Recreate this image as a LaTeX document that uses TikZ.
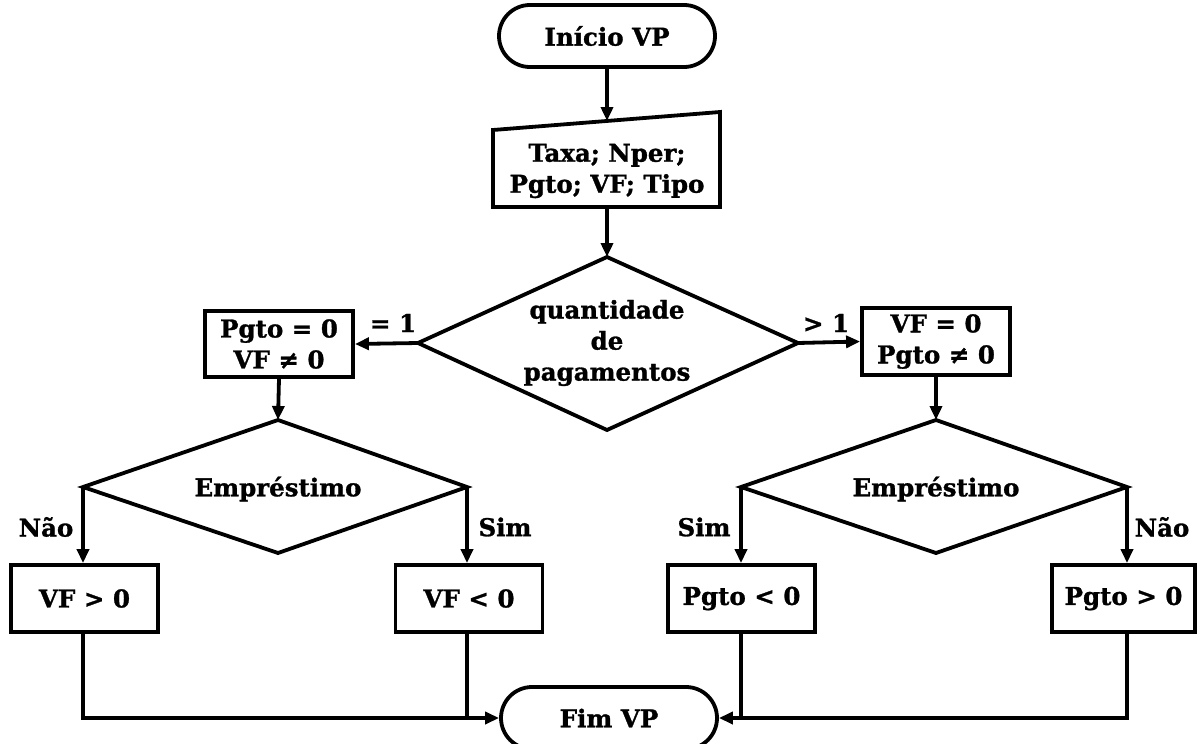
\documentclass[tikz,border=0pt]{standalone}
\usepackage{fontspec}
\setmainfont{DejaVu Serif}[BoldFeatures={FakeBold=1.2}]
\usetikzlibrary{shapes.misc,arrows.meta}
\begin{document}
\begin{tikzpicture}[x=1pt,y=-1pt,
  txt/.style={font=\fontsize{24.5}{31}\selectfont\bfseries, align=center},
  box/.style={txt, draw, line width=3.8pt, inner sep=0pt},
  term/.style={txt, draw, line width=3.8pt, rounded rectangle, inner sep=0pt, minimum width=216pt, minimum height=62pt},
  shp/.style={line width=3.8pt, line join=miter},
  conn/.style={line width=3.8pt},
  arr/.style={line width=3.8pt, -{Triangle[length=14pt,width=12pt]}},
  lbl/.style={txt}]
\useasboundingbox (0,0) rectangle (1197,744);

% terminals
\node[term] (ini) at (607,36) {Início VP};
\node[term] (fim) at (609,718) {Fim VP};

% input
\draw[shp] (493,130) -- (720,112) -- (720,207) -- (493,207) -- cycle;
\coordinate (inTop) at (607,121);
\coordinate (inBot) at (607,207);
\node[txt] (inp) at (607,171) {Taxa; Nper;\\Pgto; VF; Tipo};

% big decision
\coordinate (dT) at (607,257);
\coordinate (dL) at (418,343);
\coordinate (dR) at (798,343);
\coordinate (dB) at (607,430);
\draw[shp] (dT) -- (dR) -- (dB) -- (dL) -- cycle;
\node[txt] (dq) at (607,343) {quantidade\\de\\pagamentos};

% boxes after decision
\node[box, minimum width=148pt, minimum height=66pt] (b1) at (279,344) {Pgto = 0\\VF ≠ 0};
\node[box, minimum width=148pt, minimum height=67pt] (b2) at (936,341.5) {VF = 0\\Pgto ≠ 0};

% left Empréstimo decision
\coordinate (lT) at (278,420);
\coordinate (lL) at (83,487);
\coordinate (lR) at (467,487);
\coordinate (lB) at (278,553);
\draw[shp] (lT) -- (lR) -- (lB) -- (lL) -- cycle;
\node[txt] (le) at (278,489) {Empréstimo};

% right Empréstimo decision
\coordinate (rT) at (936,420);
\coordinate (rL) at (741,487);
\coordinate (rR) at (1127,487);
\coordinate (rB) at (936,553);
\draw[shp] (rT) -- (rR) -- (rB) -- (rL) -- cycle;
\node[txt] (re) at (936,489) {Empréstimo};

% result boxes
\node[box, minimum width=147pt, minimum height=67pt] (b3) at (84.5,598.5) {VF > 0};
\node[box, minimum width=147pt, minimum height=67pt] (b4) at (469,598.5) {VF < 0};
\node[box, minimum width=147pt, minimum height=67pt] (b5) at (741.5,598.5) {Pgto < 0};
\node[box, minimum width=143pt, minimum height=67pt] (b6) at (1123.5,598.5) {Pgto > 0};

% connectors
\draw[arr] (ini.south) -- (inTop);
\draw[arr] (inBot) -- (dT);
\draw[arr] (dL) -- (b1.east);
\draw[arr] (dR) -- (b2.west);
\draw[arr] (b1.south) -- (lT);
\draw[arr] (b2.south) -- (rT);
\draw[arr] (lL) -- (lL |- b3.north);
\draw[arr] (lR) -- (lR |- b4.north);
\draw[arr] (rL) -- (rL |- b5.north);
\draw[arr] (rR) -- (rR |- b6.north);
\draw[arr] (lL |- b3.south) |- (fim.west);
\draw[conn] (lR |- b4.south) -- (lR |- fim.west);
\draw[arr] (rR |- b6.south) |- (fim.east);
\draw[conn] (rL |- b5.south) -- (rL |- fim.east);

% labels
\node[lbl] (l1) at (393,323) {= 1};
\node[lbl] (l2) at (826,323) {> 1};
\node[lbl] (l3) at (46,527) {Não};
\node[lbl] (l4) at (505,527) {Sim};
\node[lbl] (l5) at (704,527) {Sim};
\node[lbl] (l6) at (1162,527) {Não};
\end{tikzpicture}
\end{document}
